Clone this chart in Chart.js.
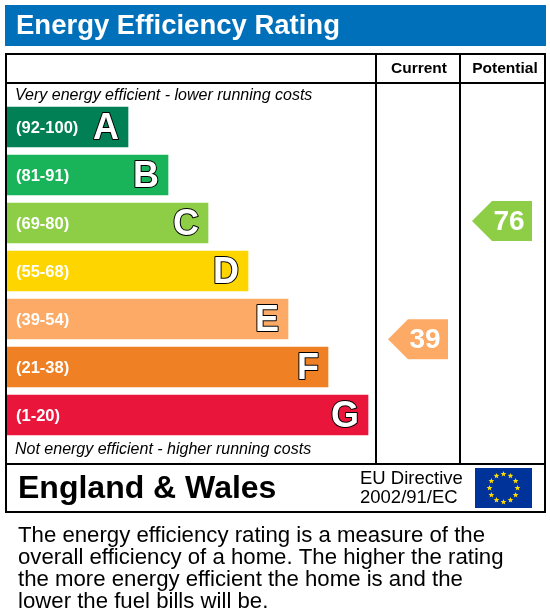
<!DOCTYPE html>
<html><head><meta charset="utf-8">
<script src="https://cdn.jsdelivr.net/npm/chart.js@4"></script>
<style>html,body{margin:0;padding:0;background:#fff}</style>
</head><body>
<canvas id="c" width="550" height="613"></canvas>
<script>
const bands = ['A','B','C','D','E','F','G'];
const ranges = ['(92-100)','(81-91)','(69-80)','(55-68)','(39-54)','(21-38)','(1-20)'];
const barLengths = [1,2,3,4,5,6,7];
const colors = ['#008054','#19b459','#8dce46','#ffd500','#fcaa65','#ef8023','#e9153b'];
const currentRating = 39, currentPos = 4.42, currentColor = '#fcaa65';
const potentialRating = 76, potentialPos = 1.96, potentialColor = '#8dce46';
const F = '"Liberation Sans", Arial, sans-serif';

const deco = {
  id:'deco',
  beforeDraw(ch){
    const c = ch.ctx;
    c.save();
    c.fillStyle='#fff'; c.fillRect(0,0,550,613);
    c.fillStyle='#0070bb'; c.fillRect(5,5,541,41);
    c.fillStyle='#fff'; c.font='bold 27.5px '+F; c.textBaseline='middle';
    c.fillText('Energy Efficiency Rating',16,26);
    c.restore();
  },
  afterDraw(ch){
    const c = ch.ctx, x = ch.scales.x, y = ch.scales.y;
    c.save();
    c.strokeStyle='#000'; c.lineWidth=2;
    c.strokeRect(6,54,539,458);
    c.beginPath();
    c.moveTo(6,83);c.lineTo(545,83);
    c.moveTo(6,464);c.lineTo(545,464);
    c.moveTo(376,54);c.lineTo(376,464);
    c.moveTo(460,54);c.lineTo(460,464);
    c.stroke();
    c.fillStyle='#000'; c.textBaseline='middle'; c.textAlign='center';
    c.font='bold 15.5px '+F;
    c.fillText('Current',419,69); c.fillText('Potential',505,69);
    c.textAlign='left'; c.font='italic 16px '+F;
    c.fillText('Very energy efficient - lower running costs',15,96);
    c.fillText('Not energy efficient - higher running costs',15,450);
    bands.forEach((b,i)=>{
      const py = y.getPixelForValue(i), right = x.getPixelForValue(barLengths[i]);
      c.fillStyle='#fff'; c.font='bold 16.5px '+F; c.textAlign='left';
      c.fillText(ranges[i],16,py+1);
      c.font='bold 36px '+F; c.textAlign='right';
      c.lineWidth=2; c.strokeStyle='#000'; c.lineJoin='round';
      c.strokeText(b,right-9,py+2); c.fillText(b,right-9,py+2);
    });
    function arrow(val,pos,col,left,right){
      const cy = y.getPixelForValue(pos), h=20;
      c.fillStyle=col; c.beginPath();
      c.moveTo(left,cy); c.lineTo(left+20,cy-h); c.lineTo(right,cy-h);
      c.lineTo(right,cy+h); c.lineTo(left+20,cy+h); c.closePath(); c.fill();
      c.fillStyle='#fff'; c.font='bold 28px '+F; c.textAlign='center';
      c.fillText(String(val),(left+right)/2+7,cy+1);
    }
    arrow(currentRating,currentPos,currentColor,388,448);
    arrow(potentialRating,potentialPos,potentialColor,472,532);
    c.fillStyle='#000'; c.textAlign='left'; c.font='bold 32px '+F;
    c.fillText('England & Wales',18,489);
    c.font='18.5px '+F;
    c.fillText('EU Directive',360,479); c.fillText('2002/91/EC',360,498);
    c.fillStyle='#003399'; c.fillRect(475,468,57,40);
    c.fillStyle='#ffdd00';
    for(let k=0;k<12;k++){
      const a=k*Math.PI/6, sx=503.5+14*Math.cos(a), sy=488+14*Math.sin(a);
      c.beginPath();
      for(let j=0;j<10;j++){
        const r=j%2?1.3:3, b2=-Math.PI/2+j*Math.PI/5;
        c.lineTo(sx+r*Math.cos(b2),sy+r*Math.sin(b2));
      }
      c.closePath(); c.fill();
    }
    c.fillStyle='#000'; c.font='22.2px '+F; c.textBaseline='alphabetic';
    ['The energy efficiency rating is a measure of the','overall efficiency of a home. The higher the rating','the more energy efficient the home is and the','lower the fuel bills will be.']
      .forEach((t,i)=>c.fillText(t,18,542+i*22));
    c.restore();
  }
};

new Chart(document.getElementById('c'),{
  type:'bar',
  data:{labels:bands,datasets:[{data:barLengths,backgroundColor:colors,base:-2.025,barThickness:40,borderWidth:0}]},
  options:{
    indexAxis:'y',responsive:false,animation:false,devicePixelRatio:1,
    layout:{padding:{left:7,top:103,right:175,bottom:174}},
    plugins:{legend:{display:false},tooltip:{enabled:false}},
    scales:{
      x:{display:false,min:-2.025,max:7.175},
      y:{display:false}
    }
  },
  plugins:[deco]
});
</script>
</body></html>
